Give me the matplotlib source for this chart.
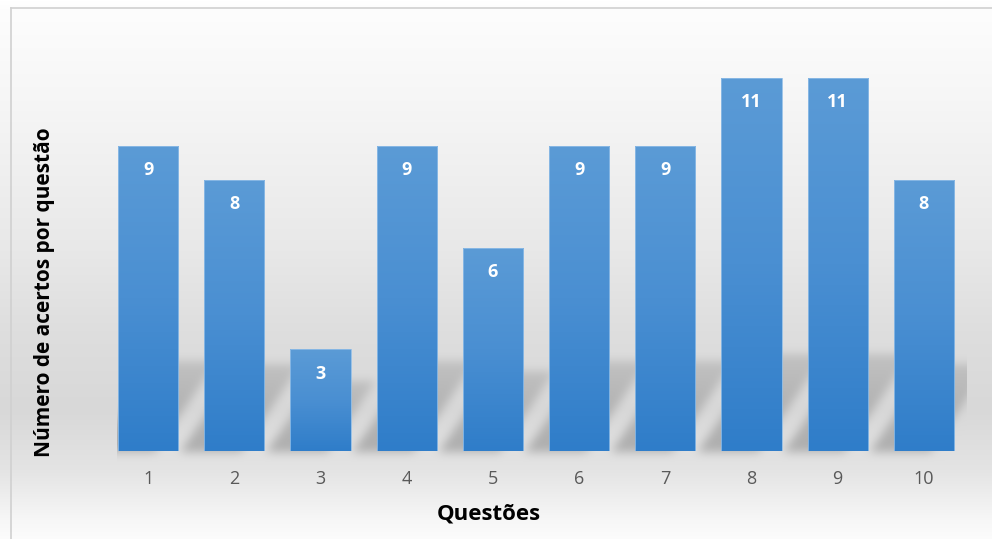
import numpy as np
import matplotlib
matplotlib.use("Agg")
import matplotlib.pyplot as plt
from matplotlib.colors import LinearSegmentedColormap

questoes = ["1", "2", "3", "4", "5", "6", "7", "8", "9", "10"]
acertos = [9, 8, 3, 9, 6, 9, 9, 11, 11, 8]

W, H = 992, 539
plt.rcParams['font.family'] = ['Open Sans', 'DejaVu Sans']

fig = plt.figure(figsize=(W / 100, H / 100), dpi=100)

# fundo em pixels (gradiente + sombras)
bg = fig.add_axes([0, 0, 1, 1], zorder=0)
bg.set_xlim(0, W)
bg.set_ylim(H, 0)
bg.axis("off")

ax = fig.add_axes([105 / W, (H - 451) / H, (967 - 105) / W, (451 - 44) / H], zorder=1)
ax.set_facecolor("none")
x = np.arange(len(acertos))
ax.set_xlim(-0.5, len(acertos) - 0.5)
ax.set_ylim(0, 12)

# gradiente vertical do fundo
yy = np.arange(H)
stops_y = [0, 8, 100, 250, 330, 410, 470, 520, 539]
stops_v = [255, 253, 246, 232, 222, 216, 228, 247, 252]
col = np.interp(yy, stops_y, stops_v) / 255.0
img = np.ones((H, W, 3)) * col[:, None, None]

# sombras em perspectiva atrás das barras
largura = 0.7
mask = np.zeros((H, W))
XX, YY = np.meshgrid(np.arange(W), np.arange(H))
base_px = H - ax.transData.transform((0, 0))[1]
ppu = ax.transData.transform((0, 1))[1] - ax.transData.transform((0, 0))[1]
t = base_px - YY
for xi, v in zip(x, acertos):
    l = ax.transData.transform((xi - largura / 2, 0))[0]
    r = ax.transData.transform((xi + largura / 2, 0))[0]
    alt = 60 + 0.1 * v * ppu
    desl = -24 + 0.69 * t
    dentro = (t >= 0) & (t <= alt) & (XX >= l + desl) & (XX <= r + desl)
    # sombra mais fraca à medida que se afasta da base
    mask[dentro] = np.maximum(mask[dentro], 1.0 - 0.45 * t[dentro] / alt)

# desfoque simples (caixa separável, 3 passes)
def blur(a, k):
    for _ in range(3):
        p = np.pad(a, ((0, 0), (k, k)), mode="edge")
        c = np.cumsum(p, axis=1)
        c = np.concatenate([np.zeros((a.shape[0], 1)), c], axis=1)
        a = (c[:, 2 * k + 1:] - c[:, :-2 * k - 1]) / (2 * k + 1)
        p = np.pad(a, ((k, k), (0, 0)), mode="edge")
        c = np.cumsum(p, axis=0)
        c = np.concatenate([np.zeros((1, a.shape[1])), c], axis=0)
        a = (c[2 * k + 1:, :] - c[:-2 * k - 1, :]) / (2 * k + 1)
    return a

x_esq = ax.transData.transform((-largura / 2, 0))[0]
x_dir = ax.transData.transform((len(acertos) - 0.5, 0))[0]
mask = blur(mask, 4)
mask[:, int(x_dir) + 1:] = 0
mask[:, :int(x_esq)] = 0
img = img * (1 - 0.22 * mask[:, :, None])

bg.imshow(img, extent=(0, W, H, 0), aspect="auto", interpolation="bilinear", zorder=0)
bg.plot([11, 11], [8, H], color="#d0d0d0", lw=1.2, zorder=2)
bg.plot([11, W], [8, 8], color="#d0d0d0", lw=1.2, zorder=2)

# barras com gradiente azul
cmap = LinearSegmentedColormap.from_list("azul", ["#2f7dc9", "#4a8fd2", "#5b9bd6"])
barras = ax.bar(x, acertos, width=largura, color="none", edgecolor="#8fbce6", linewidth=0.6, zorder=3)
for b, v in zip(barras, acertos):
    grad = np.linspace(0, 1, 256)[:, None]
    im = ax.imshow(grad, extent=(b.get_x(), b.get_x() + b.get_width(), 0, v),
                   origin="lower", cmap=cmap, aspect="auto", zorder=2)
    im.set_clip_path(b)
    ax.text(b.get_x() + b.get_width() / 2, v - 0.72, str(v), ha="center", va="center",
            color="white", fontsize=13, fontweight="bold", zorder=4)

ax.set_xticks(x)
ax.set_xticklabels(questoes, color="#595959", fontsize=13)
ax.set_yticks([])
ax.tick_params(axis="x", length=0, pad=14)
for s in ax.spines.values():
    s.set_visible(False)

fig.text(489 / W, 1 - 514 / H, "Questões", fontsize=16, fontweight="bold",
         ha="center", va="center", color="black")
fig.text(45 / W, 1 - 292 / H, "Número de acertos por questão", fontsize=15, fontweight="bold",
         rotation=90, ha="center", va="center", color="black")

fig.savefig("out.png", dpi=100)
